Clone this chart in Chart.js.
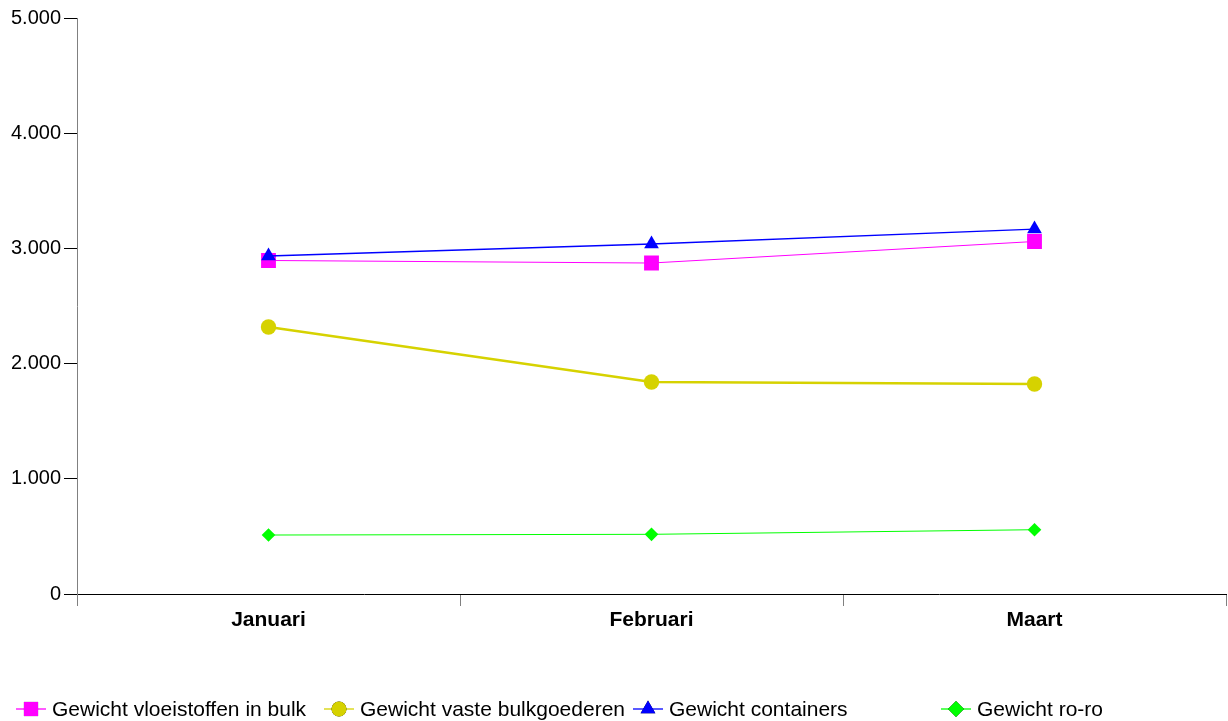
<!DOCTYPE html>
<html>
<head>
<meta charset="utf-8">
<script src="https://cdn.jsdelivr.net/npm/chart.js@4/dist/chart.umd.min.js"></script>
<style>
html,body{margin:0;padding:0;background:#fff;}
#wrap{width:1228px;height:721px;position:relative;}
</style>
</head>
<body>
<div id="wrap"><canvas id="c" width="1228" height="721"></canvas></div>
<script>
const categories = ['Januari', 'Februari', 'Maart'];
const seriesNames = ['Gewicht vloeistoffen in bulk', 'Gewicht vaste bulkgoederen', 'Gewicht containers', 'Gewicht ro-ro'];
const vloeistoffen = [2895, 2873, 3060];
const vasteBulk = [2318, 1840, 1823];
const containers = [2934, 3038, 3168];
const roro = [512, 518, 558];
const yTicks = [0, 1000, 2000, 3000, 4000, 5000];

const FONT = 'Arial, "Liberation Sans", sans-serif';

function fmt(v){ return String(v).replace(/\B(?=(\d{3})+(?!\d))/g, '.'); }

const legendPlugin = {
  id: 'colLegend',
  afterDraw(chart){
    const ctx = chart.ctx;
    const y = 709;
    const startX = 16, colW = 308.3;
    ctx.save();
    chart.data.datasets.forEach((ds, i) => {
      const x0 = Math.round(startX + i * colW);
      ctx.strokeStyle = ds.borderColor;
      ctx.lineWidth = 1.3;
      ctx.beginPath();
      ctx.moveTo(x0, y);
      ctx.lineTo(x0 + 30, y);
      ctx.stroke();
      Chart.helpers.drawPoint(ctx, {pointStyle: ds.pointStyle, radius: ds.legendRadius, borderWidth: 0, rotation: 0}, x0 + 15, y);
      ctx.fillStyle = ds.backgroundColor;
      ctx.fill();
      ctx.fillStyle = '#000';
      ctx.font = '21px ' + FONT;
      ctx.textBaseline = 'middle';
      ctx.textAlign = 'left';
      ctx.fillText(ds.label, x0 + 36, y + 1);
    });
    ctx.restore();
  }
};

new Chart(document.getElementById('c'), {
  type: 'line',
  data: {
    labels: categories,
    datasets: [
      {label: seriesNames[0], data: vloeistoffen, borderColor: '#FF00FF', backgroundColor: '#FF00FF', borderWidth: 1, pointStyle: 'rect', pointRadius: 10.5, pointHoverRadius: 10.5, pointBorderWidth: 0, legendRadius: 10, order: 3},
      {label: seriesNames[1], data: vasteBulk, borderColor: '#D6D200', backgroundColor: '#D6D200', borderWidth: 2.5, pointStyle: 'circle', pointRadius: 7.7, pointHoverRadius: 7.7, pointBorderWidth: 0, legendRadius: 7.5, order: 2},
      {label: seriesNames[2], data: containers, borderColor: '#0000FF', backgroundColor: '#0000FF', borderWidth: 1.3, pointStyle: 'triangle', pointRadius: 8.5, pointHoverRadius: 8.5, pointBorderWidth: 0, legendRadius: 8.5, order: 1},
      {label: seriesNames[3], data: roro, borderColor: '#00FF00', backgroundColor: '#00FF00', borderWidth: 1, pointStyle: 'rectRot', pointRadius: 6.8, pointHoverRadius: 6.8, pointBorderWidth: 0, legendRadius: 8, order: 0}
    ]
  },
  options: {
    responsive: false,
    animation: false,
    layout: {autoPadding: false, padding: {left: 0, right: 2, top: 18, bottom: 0}},
    plugins: {legend: {display: false}, tooltip: {enabled: false}},
    elements: {line: {tension: 0}},
    scales: {
      x: {
        offset: true,
        grid: {offset: true, drawOnChartArea: false, drawTicks: true, tickLength: 12, tickColor: '#808080', tickWidth: 1},
        border: {color: '#000', width: 1},
        ticks: {color: '#000', font: {family: FONT, size: 21, weight: 'bold'}, padding: 2, maxRotation: 0},
        afterFit(s){ s.height = 127; }
      },
      y: {
        min: 0, max: 5000,
        afterBuildTicks(s){ s.ticks = yTicks.map(v => ({value: v})); },
        grid: {drawOnChartArea: false, drawTicks: true, tickLength: 13, tickColor: '#000', tickWidth: 1},
        border: {color: '#808080', width: 1},
        ticks: {color: '#000', font: {family: FONT, size: 20}, padding: 3, callback: v => fmt(v)},
        afterFit(s){ s.width = 77; }
      }
    }
  },
  plugins: [legendPlugin]
});
</script>
</body>
</html>
